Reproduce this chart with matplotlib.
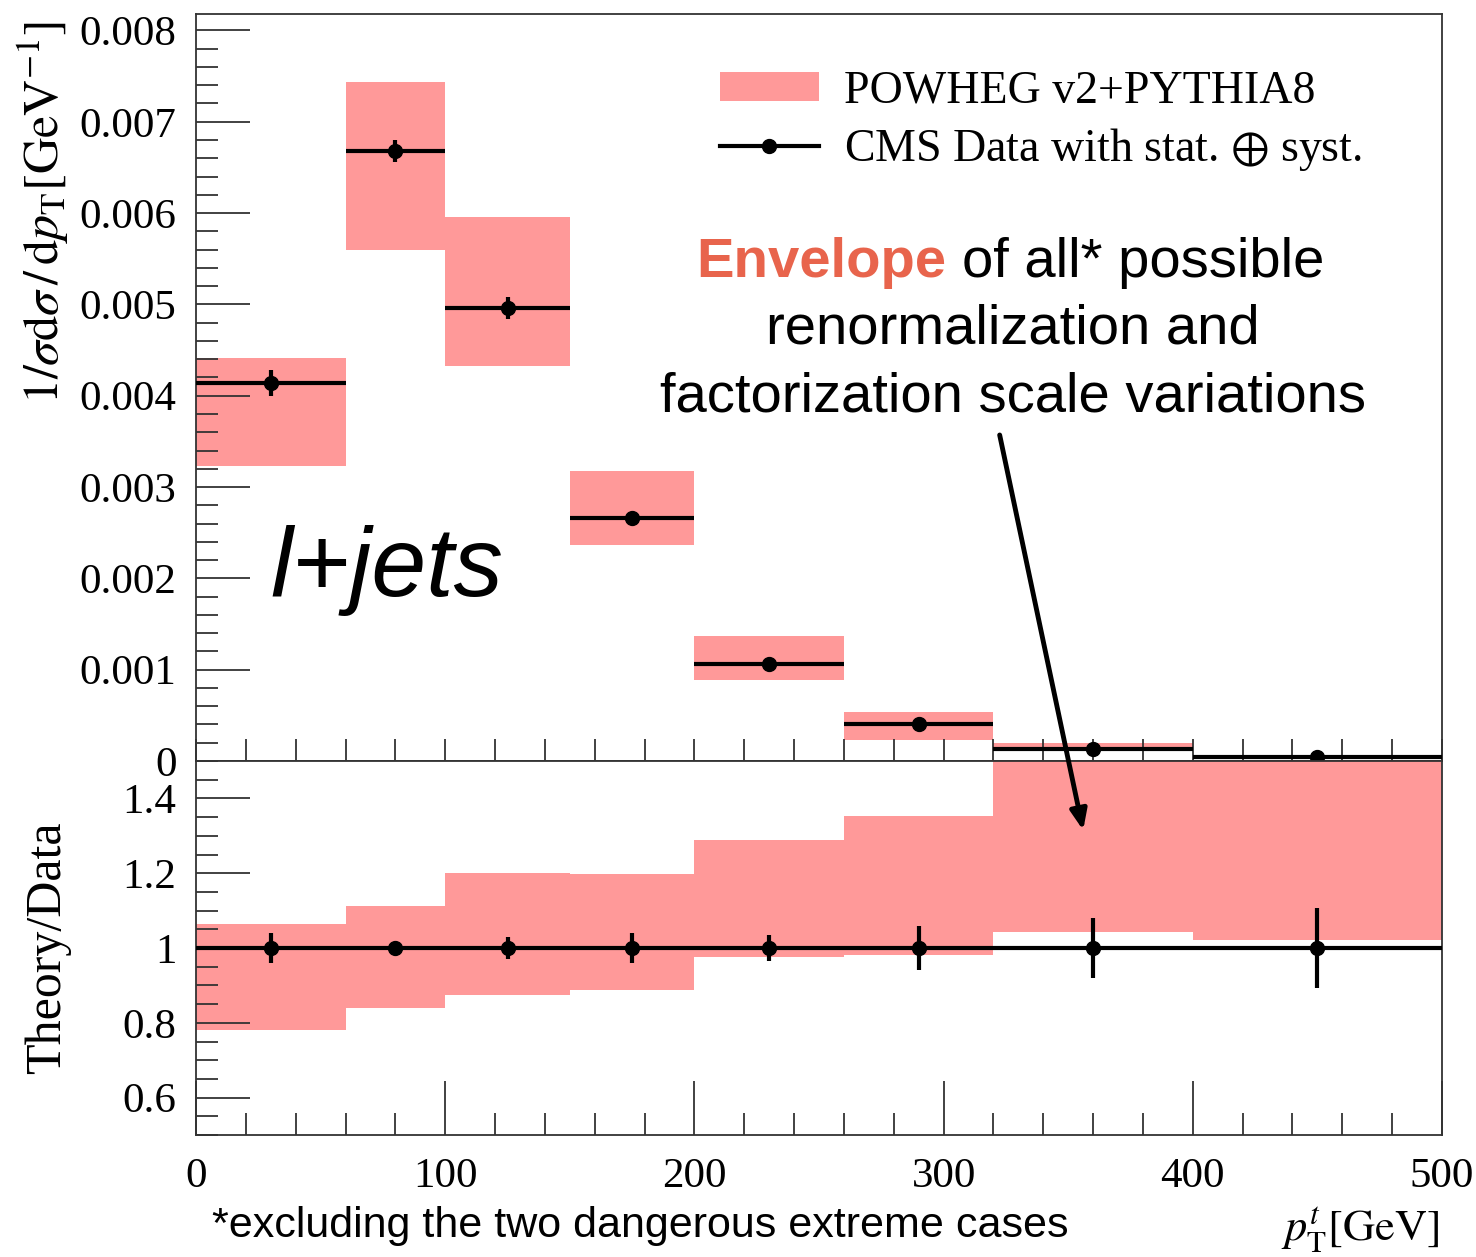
import numpy as np
import matplotlib
matplotlib.use("Agg")
from matplotlib import pyplot as plt
from matplotlib.patches import Patch
from matplotlib.lines import Line2D
from matplotlib.ticker import MultipleLocator

# bin edges in pT [GeV]
edges = [0, 60, 100, 150, 200, 260, 320, 400, 500]
centers = [30, 80, 125, 175, 230, 290, 360, 450]

# CMS data, 1/sigma dsigma/dpT
data = [0.00414, 0.00668, 0.00496, 0.00266, 0.00106, 0.000405, 0.00013, 0.00004]
data_err = [0.00014, 0.00012, 0.00012, 0.00007, 0.00004, 0.00003, 0.00001, 0.000005]

# POWHEG envelope
theo_up = [0.00441, 0.00743, 0.00596, 0.00318, 0.00137, 0.00054, 0.00020, 0.000065]
theo_dn = [0.00323, 0.00560, 0.00433, 0.00236, 0.00089, 0.00023, 0.000136, 0.000041]

# ratio panel
ratio_up = [1.064, 1.112, 1.200, 1.198, 1.289, 1.353, 1.55, 1.60]
ratio_dn = [0.780, 0.840, 0.874, 0.888, 0.976, 0.981, 1.043, 1.021]
ratio_err = [0.04, 0.01, 0.03, 0.04, 0.035, 0.06, 0.08, 0.107]

band_col = "#ff9999"
serif = ["Liberation Serif", "DejaVu Serif"]
sans = ["Liberation Sans", "DejaVu Sans"]

plt.rcParams["font.family"] = serif
plt.rcParams["mathtext.fontset"] = "stix"

W, H = 1476, 1257
fig = plt.figure(figsize=(W / 100, H / 100), dpi=100)


def px(x, y):
    return x / W, 1 - y / H


ax1 = fig.add_axes([196 / W, 1 - 761 / H, 1246 / W, 747 / H])
ax2 = fig.add_axes([196 / W, 1 - 1135 / H, 1246 / W, 374 / H], sharex=ax1)

lo = np.array(edges[:-1])
hi = np.array(edges[1:])
c = np.array(centers)

ax1.bar(lo, np.array(theo_up) - np.array(theo_dn), width=hi - lo, bottom=theo_dn,
        align="edge", color=band_col, linewidth=0, zorder=1)
ax1.errorbar(c, data, xerr=[c - lo, hi - c], yerr=data_err, fmt="o", color="k",
             ms=10, lw=3, capsize=0, zorder=3)

ax2.bar(lo, np.array(ratio_up) - np.array(ratio_dn), width=hi - lo, bottom=ratio_dn,
        align="edge", color=band_col, linewidth=0, zorder=1)
ax2.errorbar(c, np.ones(len(c)), xerr=[c - lo, hi - c], yerr=ratio_err, fmt="o",
             color="k", ms=10, lw=3, capsize=0, zorder=3)

ax1.set_xlim(0, 500)
ax1.set_ylim(0, 0.00818)
ax2.set_ylim(0.5, 1.5)

for ax in (ax1, ax2):
    for s in ax.spines.values():
        s.set_linewidth(1.3)
        s.set_color("#333333")
    ax.xaxis.set_major_locator(MultipleLocator(100))
    ax.xaxis.set_minor_locator(MultipleLocator(20))
    ax.tick_params(which="both", direction="in", top=False, right=False,
                   labelsize=31, width=1.3, color="#333333")
    ax.tick_params(which="major", length=39, pad=14)
    ax.tick_params(which="minor", length=16)

ax1.yaxis.set_minor_locator(MultipleLocator(0.0002))
ax1.set_yticks([0, 0.001, 0.002, 0.003, 0.004, 0.005, 0.006, 0.007, 0.008])
ax1.set_yticklabels(["0", "0.001", "0.002", "0.003", "0.004", "0.005", "0.006", "0.007", "0.008"])
ax1.tick_params(axis="x", which="major", length=16, labelbottom=False)

ax2.yaxis.set_minor_locator(MultipleLocator(0.05))
ax2.set_yticks([0.6, 0.8, 1.0, 1.2, 1.4])
ax2.set_yticklabels(["0.6", "0.8", "1", "1.2", "1.4"])
ax2.set_xticks([0, 100, 200, 300, 400, 500])
ax2.set_xticklabels(["0", "100", "200", "300", "400", "500"])
ax2.tick_params(axis="x", which="major", pad=16)

# legend
handles = [Patch(facecolor=band_col, edgecolor="none"),
           Line2D([], [], color="k", lw=3, marker="o", ms=10)]
ax1.legend(handles, ["POWHEG v2+PYTHIA8", "CMS Data with stat. $\\oplus$ syst."],
           loc="upper left", bbox_to_anchor=px(720, 70), bbox_transform=fig.transFigure,
           frameon=False, fontsize=33, handlelength=2.15, handleheight=0.6,
           handletextpad=0.55, labelspacing=0.3, borderaxespad=0, borderpad=0)

# axis titles
fig.text(*px(43, 212), "$1/\\sigma\\mathrm{d}\\sigma\\,/\\,\\mathrm{d}p_\\mathrm{T}[\\mathrm{GeV}^{-1}]$",
         rotation=90, ha="center", va="center", fontsize=36)
fig.text(*px(48, 948), "Theory/Data", rotation=90, ha="center", va="center", fontsize=36)
fig.text(*px(1440, 1230), "$p_\\mathrm{T}^{t}[\\mathrm{GeV}]$", ha="right", va="center", fontsize=32)
fig.text(*px(212, 1226), "*excluding the two dangerous extreme cases", ha="left",
         va="center", fontsize=31, family=sans)

# annotations
fig.text(*px(270, 570), "l+jets", ha="left", va="center", fontsize=71, style="italic",
         family=sans)
fig.text(*px(946, 263), "Envelope", ha="right", va="center", fontsize=40.5, weight="bold",
         color="#e8644c", family=sans)
fig.text(*px(962, 263), "of all* possible", ha="left", va="center", fontsize=40.5, family=sans)
fig.text(*px(1013, 330), "renormalization and", ha="center", va="center", fontsize=40.5,
         family=sans)
fig.text(*px(1013, 397), "factorization scale variations", ha="center", va="center",
         fontsize=40.5, family=sans)

ax2.annotate("", xy=(356, 1.315), xycoords=ax2.transData,
             xytext=(322.5, 0.00357), textcoords=ax1.transData,
             arrowprops=dict(arrowstyle="-|>,head_length=1.2,head_width=0.5",
                             color="k", lw=3.5, shrinkA=0, shrinkB=0),
             annotation_clip=False, zorder=10)

fig.savefig("out.png", dpi=100)
